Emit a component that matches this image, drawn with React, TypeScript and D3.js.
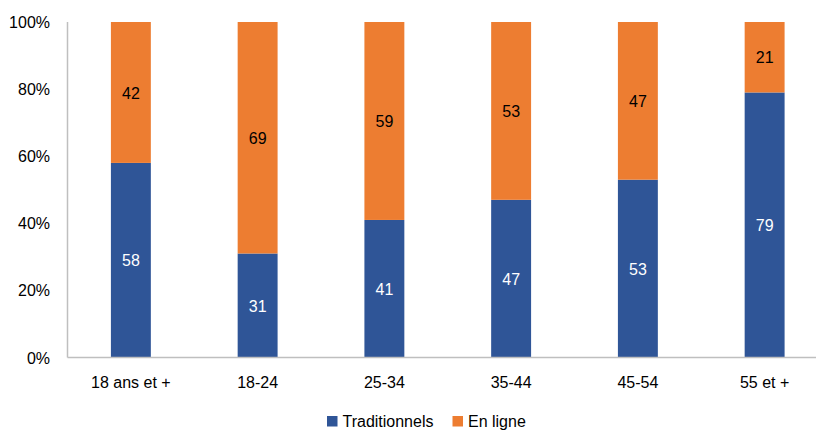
import React from "react";
import * as d3 from "d3";

const categories = ["18 ans et +", "18-24", "25-34", "35-44", "45-54", "55 et +"];
const traditionnels = [58, 31, 41, 47, 53, 79];
const enLigne = [42, 69, 59, 53, 47, 21];
const yTicks = [0, 20, 40, 60, 80, 100];
const seriesNames = ["Traditionnels", "En ligne"];
const colors = ["#2F5597", "#ED7D31"];

const font = "'Liberation Sans', Arial, sans-serif";

function T({ x, y, children, anchor = "middle", fill = "#000" }: any) {
  // slightly tall text like the original rendering
  return (
    <g transform={`translate(${x},${y}) scale(1,1.08)`}>
      <text x={0} y={0} dy="0.35em" textAnchor={anchor} fontSize={16} fill={fill}>{children}</text>
    </g>
  );
}

export default function App() {
  const W = 816, H = 430;
  const left = 67.5, right = 828, top = 22, bottom = 357.5;
  const x = d3.scaleBand<string>().domain(categories).range([left, right]).paddingInner(0.685).paddingOuter(0.3425);
  const y = d3.scaleLinear().domain([0, 100]).range([bottom, top]);
  const data = categories.map((c, i) => ({ c, t: traditionnels[i], e: enLigne[i] }));
  const stack = d3.stack<any>().keys(["t", "e"])(data);
  const bw = x.bandwidth();
  const legendX = [327, 452.5];
  return (
    <svg width={W} height={H} style={{ position: "absolute", left: 0, top: 0 }} fontFamily={font}>
      {stack.map((s, si) => (
        <g key={si}>
          {s.map((d, i) => (
            <g key={i}>
              <rect x={x(categories[i])!} width={bw} y={y(d[1])} height={y(d[0]) - y(d[1])} fill={colors[si]} />
              <T x={x(categories[i])! + bw / 2} y={(y(d[0]) + y(d[1])) / 2} fill={si === 0 ? "#fff" : "#000"}>
                {d[1] - d[0]}
              </T>
            </g>
          ))}
        </g>
      ))}
      <line x1={left} x2={left} y1={top} y2={bottom} stroke="#BFBFBF" strokeWidth={1.5} />
      <line x1={left} x2={W} y1={bottom} y2={bottom} stroke="#BFBFBF" strokeWidth={1.5} />
      {yTicks.map((t) => (
        <T key={t} x={50} y={y(t)} anchor="end">{t}%</T>
      ))}
      {categories.map((c) => (
        <T key={c} x={x(c)! + bw / 2} y={382}>{c}</T>
      ))}
      {seriesNames.map((n, i) => {
        const lx = legendX[i];
        return (
          <g key={n}>
            <rect x={lx} y={416} width={10.5} height={10.5} fill={colors[i]} />
            <T x={lx + 15.5} y={421} anchor="start">{n}</T>
          </g>
        );
      })}
    </svg>
  );
}
